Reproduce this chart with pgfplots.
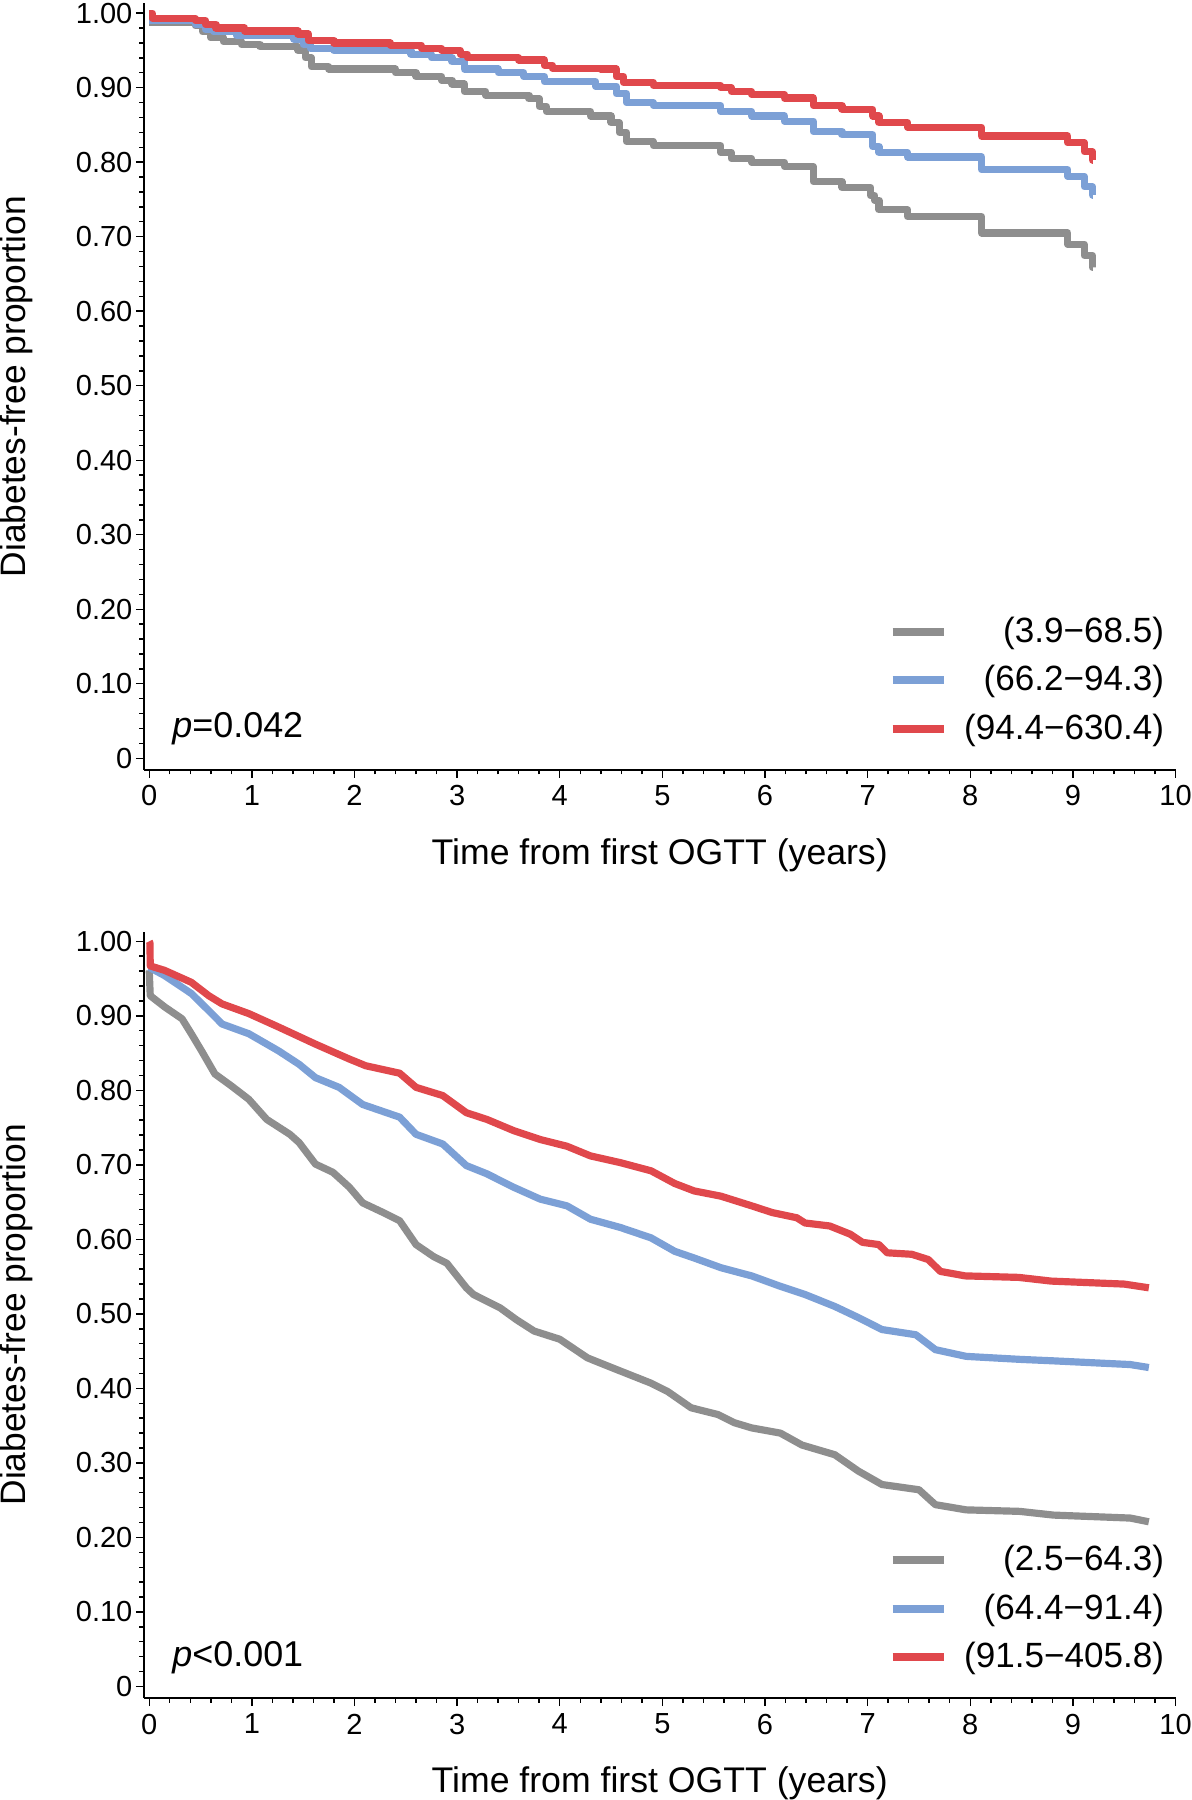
\documentclass[border=0pt]{standalone}
\usepackage{pgfplots}
\pgfplotsset{compat=1.18}
\usepackage{fontspec}
\setmainfont{Liberation Sans}
\definecolor{kmgray}{RGB}{142,142,142}
\definecolor{kmblue}{RGB}{124,160,214}
\definecolor{kmred}{RGB}{224,72,76}

\pgfplotsset{kmaxis/.style={
  scale only axis, width=359pt, height=266.7pt,
  xmin=-0.052, xmax=10, ymin=-0.0155, ymax=1.013,
  axis x line*=bottom, axis y line*=left,
  axis line style={line width=0.7pt, black},
  xtick={0,1,2,3,4,5,6,7,8,9,10},
  ytick={0,0.1,0.2,0.3,0.4,0.5,0.6,0.7,0.8,0.9,1.0},
  yticklabels={0,0.10,0.20,0.30,0.40,0.50,0.60,0.70,0.80,0.90,1.00},
  minor x tick num=4, minor y tick num=4,
  tick align=outside,
  major tick length=2.8pt, minor tick length=1.6pt,
  tick style={line width=0.5pt, black},
  /pgf/number format/assume math mode=true,
  ticklabel style={font=\fontsize{10.1}{12}\selectfont},
  yticklabel style={inner sep=1pt},
  xticklabel style={inner xsep=0pt, inner ysep=2.5pt},
  xlabel={Time from first OGTT (years)},
  ylabel={Diabetes-free proportion},
  xlabel style={font=\fontsize{12.4}{14}\selectfont, at={(axis description cs:0.5,-0.1114)}, anchor=center, inner sep=0pt},
  ylabel style={font=\fontsize{12.3}{14}\selectfont, at={(axis description cs:-0.1235,0.5)}, anchor=center, inner sep=0pt},
  legend cell align=right,
  legend style={draw=none, fill=none, at={(axis description cs:1,0)}, anchor=south east,
    xshift=-0.6pt, yshift=5.6pt, inner sep=0pt, row sep=0.2pt, column sep=2.4pt,
    nodes={inner sep=3.2pt}, font=\fontsize{12.2}{14}\selectfont},
  legend image code/.code={\draw[#1, line width=2.8pt] (0pt,0pt) -- (17.9pt,0pt);},
  every axis plot/.append style={line width=2.5pt, line join=round, no markers},
}}

\begin{document}
\begin{tikzpicture}
% ---------------- top panel ----------------
\begin{axis}[kmaxis]
\addplot[kmgray, const plot] coordinates {
(0,0.987) (0.45,0.983) (0.52,0.975) (0.60,0.967) (0.72,0.962) (0.90,0.958)
(1.08,0.955) (1.45,0.950) (1.52,0.940) (1.58,0.928) (1.75,0.925) (2.40,0.920)
(2.60,0.915) (2.85,0.910) (2.95,0.905) (3.07,0.895) (3.28,0.890) (3.70,0.885)
(3.80,0.875) (3.87,0.868) (4.30,0.862) (4.50,0.853) (4.58,0.840) (4.65,0.828)
(4.91,0.822) (5.57,0.813) (5.67,0.805) (5.87,0.800) (6.19,0.794) (6.47,0.774)
(6.75,0.766) (7.03,0.755) (7.07,0.749) (7.11,0.736) (7.39,0.727) (8.11,0.705)
(8.95,0.690) (9.11,0.675) (9.19,0.659) (9.20,0.659)};
\addlegendentry{(3.9−68.5)}
\addplot[kmblue, const plot] coordinates {
(0,0.990) (0.45,0.985) (0.55,0.978) (0.63,0.975) (0.85,0.970) (1.41,0.965)
(1.50,0.958) (1.57,0.953) (1.80,0.950) (2.55,0.945) (2.75,0.940) (2.95,0.935)
(3.07,0.925) (3.40,0.920) (3.65,0.915) (3.85,0.908) (4.35,0.902) (4.55,0.892)
(4.65,0.880) (4.91,0.876) (5.57,0.868) (5.87,0.862) (6.19,0.855) (6.47,0.841)
(6.75,0.837) (7.05,0.821) (7.11,0.813) (7.39,0.807) (8.11,0.790) (8.95,0.781)
(9.11,0.767) (9.19,0.756) (9.20,0.756)};
\addlegendentry{(66.2−94.3)}
\addplot[kmred, const plot] coordinates {
(0,1.000) (0.03,0.993) (0.45,0.990) (0.55,0.985) (0.65,0.980) (0.93,0.976)
(1.45,0.972) (1.55,0.963) (1.80,0.960) (2.35,0.957) (2.65,0.953) (2.85,0.950)
(3.03,0.945) (3.10,0.940) (3.60,0.937) (3.85,0.930) (3.93,0.926) (4.40,0.925)
(4.55,0.915) (4.62,0.907) (4.91,0.903) (5.57,0.900) (5.67,0.895) (5.87,0.891)
(6.19,0.886) (6.47,0.876) (6.75,0.871) (7.05,0.862) (7.11,0.853) (7.39,0.847)
(8.11,0.835) (8.95,0.826) (9.11,0.814) (9.19,0.803) (9.20,0.803)};
\addlegendentry{(94.4−630.4)}
\node[anchor=west, inner sep=0pt, font=\fontsize{12.5}{14}\selectfont] at (axis cs:0.22,0.040) {\textit{p}=0.042};
\end{axis}
% ---------------- bottom panel ----------------
\begin{axis}[kmaxis, at={(0pt,-323pt)}, anchor=south west]
\addplot[kmgray] coordinates {
(0,0.961) (0.01,0.927) (0.15,0.912) (0.32,0.896) (0.41,0.876) (0.51,0.853)
(0.64,0.822) (0.80,0.806) (0.97,0.788) (1.145,0.761) (1.37,0.741) (1.46,0.730)
(1.62,0.701) (1.79,0.690) (1.95,0.670) (2.08,0.649) (2.28,0.636) (2.44,0.625)
(2.60,0.593) (2.77,0.577) (2.90,0.568) (3.09,0.535) (3.16,0.526) (3.42,0.508)
(3.58,0.492) (3.75,0.477) (4.00,0.466) (4.27,0.441) (4.56,0.425) (4.89,0.407)
(5.05,0.396) (5.28,0.374) (5.54,0.365) (5.70,0.354) (5.87,0.347) (6.15,0.340)
(6.36,0.324) (6.68,0.311) (6.91,0.289) (7.14,0.271) (7.50,0.264) (7.66,0.244)
(7.96,0.237) (8.48,0.235) (8.81,0.230) (9.56,0.226) (9.74,0.221)};
\addlegendentry{(2.5−64.3)}
\addplot[kmblue] coordinates {
(0,0.965) (0.15,0.954) (0.41,0.930) (0.58,0.907) (0.71,0.889) (0.97,0.876)
(1.26,0.853) (1.46,0.835) (1.62,0.817) (1.85,0.804) (2.08,0.781) (2.44,0.764)
(2.60,0.741) (2.86,0.728) (3.09,0.699) (3.29,0.688) (3.55,0.670) (3.81,0.654)
(4.07,0.645) (4.30,0.627) (4.59,0.616) (4.89,0.602) (5.12,0.584) (5.31,0.575)
(5.57,0.562) (5.87,0.551) (6.15,0.537) (6.39,0.526) (6.68,0.510) (6.91,0.495)
(7.14,0.479) (7.47,0.472) (7.66,0.452) (7.96,0.443) (8.48,0.439) (8.81,0.437)
(9.56,0.432) (9.74,0.428)};
\addlegendentry{(64.4−91.4)}
\addplot[kmred] coordinates {
(0,1.000) (0.007,0.998) (0.01,0.967) (0.15,0.961) (0.41,0.945) (0.58,0.927)
(0.71,0.916) (0.97,0.903) (1.26,0.885) (1.62,0.862) (1.95,0.842) (2.11,0.833)
(2.44,0.823) (2.60,0.804) (2.86,0.793) (3.09,0.770) (3.29,0.761) (3.55,0.746)
(3.81,0.734) (4.07,0.725) (4.30,0.712) (4.59,0.703) (4.89,0.692) (5.12,0.675)
(5.31,0.665) (5.57,0.658) (5.87,0.645) (6.07,0.636) (6.31,0.629) (6.39,0.622)
(6.63,0.618) (6.83,0.607) (6.95,0.596) (7.11,0.593) (7.19,0.582) (7.43,0.580)
(7.59,0.573) (7.71,0.557) (7.95,0.551) (8.47,0.549) (8.79,0.544) (9.50,0.540)
(9.74,0.535)};
\addlegendentry{(91.5−405.8)}
\node[anchor=west, inner sep=0pt, font=\fontsize{12.5}{14}\selectfont] at (axis cs:0.22,0.039) {\textit{p}<0.001};
\end{axis}
\end{tikzpicture}
\end{document}
